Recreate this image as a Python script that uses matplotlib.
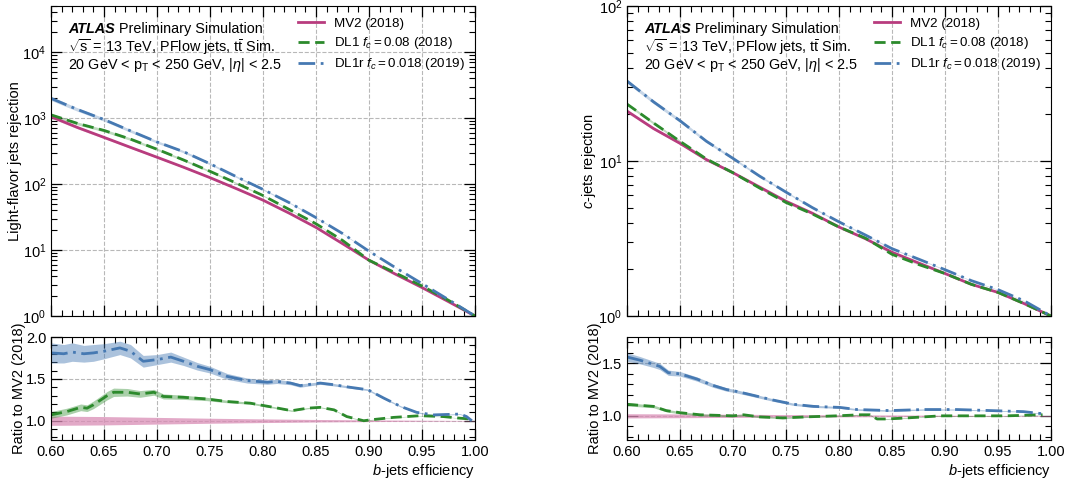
import numpy as np
import matplotlib
matplotlib.use('Agg')
import matplotlib.pyplot as plt
from matplotlib.ticker import MultipleLocator, LogLocator, NullFormatter, FormatStrFormatter

plt.rcParams['font.family'] = ['Liberation Sans', 'DejaVu Sans']
plt.rcParams['mathtext.fontset'] = 'custom'
plt.rcParams['mathtext.rm'] = 'Liberation Sans'
plt.rcParams['mathtext.it'] = 'Liberation Sans:italic'
plt.rcParams['mathtext.bf'] = 'Liberation Sans:bold'
plt.rcParams['font.size'] = 10.5

MV2_COL = '#b83c7e'
DL1_COL = '#2c8a2c'
DL1R_COL = '#4679b2'

# b-jet efficiency grid for the rejection curves
eff = [0.600, 0.625, 0.650, 0.675, 0.700, 0.725, 0.750, 0.775, 0.800,
       0.825, 0.850, 0.875, 0.900, 0.925, 0.950, 0.975, 1.000]

# light-flavour rejection
mv2_light = [1050, 720, 510, 360, 255, 180, 125, 85, 57, 36, 22, 12.5, 7.0, 4.3, 2.7, 1.65, 1.0]
dl1_light = [1120, 830, 650, 480, 337, 232, 156, 103, 67, 41, 25, 14, 7.0, 4.5, 2.85, 1.73, 1.0]
dl1r_light = [1990, 1350, 950, 640, 435, 310, 203, 129, 83, 52, 31, 17.8, 9.6, 5.4, 3.1, 1.77, 1.0]
mv2_light_err = [0.05, 0.045, 0.04, 0.035, 0.03, 0.025, 0.02, 0.015, 0.012, 0.01, 0.008, 0.006, 0.005, 0.004, 0.003, 0.002, 0.0]
dl1_light_err = [0.05, 0.05, 0.05, 0.045, 0.04, 0.035, 0.03, 0.025, 0.02, 0.015, 0.012, 0.01, 0.008, 0.006, 0.004, 0.003, 0.0]
dl1r_light_err = [0.07, 0.06, 0.055, 0.05, 0.045, 0.04, 0.035, 0.03, 0.025, 0.02, 0.016, 0.013, 0.01, 0.008, 0.006, 0.004, 0.0]

# c-jet rejection
mv2_c = [21, 16.2, 13.0, 10.2, 8.4, 6.8, 5.5, 4.6, 3.75, 3.15, 2.58, 2.2, 1.88, 1.6, 1.42, 1.2, 1.0]
dl1_c = [23.3, 17.6, 13.4, 10.3, 8.4, 6.7, 5.4, 4.55, 3.75, 3.18, 2.5, 2.15, 1.88, 1.6, 1.42, 1.2, 1.0]
dl1r_c = [32.8, 24.1, 18.2, 13.4, 10.4, 8.0, 6.3, 5.0, 4.05, 3.33, 2.72, 2.33, 1.99, 1.69, 1.48, 1.25, 1.0]
mv2_c_err = [0.02, 0.018, 0.016, 0.014, 0.012, 0.01, 0.009, 0.008, 0.007, 0.006, 0.005, 0.004, 0.004, 0.003, 0.003, 0.002, 0.0]
dl1_c_err = [0.02, 0.018, 0.016, 0.014, 0.012, 0.01, 0.009, 0.008, 0.007, 0.006, 0.005, 0.004, 0.004, 0.003, 0.003, 0.002, 0.0]
dl1r_c_err = [0.03, 0.027, 0.024, 0.02, 0.017, 0.015, 0.013, 0.011, 0.01, 0.009, 0.008, 0.007, 0.006, 0.005, 0.004, 0.003, 0.0]

# ratio to MV2, light-flavour panel
rl_dl1r_eff = [0.600, 0.612, 0.620, 0.631, 0.640, 0.650, 0.665, 0.675, 0.687, 0.700, 0.713,
               0.725, 0.738, 0.750, 0.766, 0.785, 0.804, 0.813, 0.826, 0.835, 0.854, 0.867,
               0.882, 0.899, 0.914, 0.930, 0.945, 0.961, 0.986, 0.992, 0.997]
rl_dl1r = [1.81, 1.80, 1.82, 1.80, 1.81, 1.83, 1.87, 1.83, 1.71, 1.73, 1.76,
           1.71, 1.65, 1.61, 1.53, 1.48, 1.46, 1.47, 1.45, 1.42, 1.45, 1.43,
           1.40, 1.37, 1.27, 1.17, 1.10, 1.07, 1.08, 1.05, 1.00]
rl_dl1r_err = [0.12, 0.11, 0.11, 0.10, 0.10, 0.09, 0.08, 0.08, 0.07, 0.06, 0.06,
               0.05, 0.045, 0.04, 0.035, 0.03, 0.025, 0.025, 0.02, 0.02, 0.015, 0.015,
               0.012, 0.01, 0.01, 0.008, 0.007, 0.006, 0.005, 0.005, 0.005]
rl_dl1_eff = [0.600, 0.615, 0.628, 0.634, 0.640, 0.653, 0.659, 0.672, 0.684, 0.697, 0.706,
              0.725, 0.747, 0.766, 0.788, 0.810, 0.827, 0.842, 0.854, 0.867, 0.879, 0.895,
              0.901, 0.923, 0.948, 0.970, 0.986, 0.997]
rl_dl1 = [1.07, 1.11, 1.16, 1.15, 1.19, 1.30, 1.34, 1.34, 1.32, 1.34, 1.29,
          1.28, 1.26, 1.23, 1.21, 1.16, 1.12, 1.15, 1.16, 1.13, 1.05, 1.00,
          1.01, 1.04, 1.06, 1.05, 1.03, 1.02]
rl_dl1_err = [0.04, 0.04, 0.04, 0.04, 0.045, 0.05, 0.05, 0.045, 0.04, 0.035, 0.03,
              0.025, 0.02, 0.015, 0.012, 0.01, 0.008, 0.007, 0.006, 0.005, 0.005, 0.004,
              0.004, 0.003, 0.003, 0.003, 0.002, 0.002]
rl_mv2_eff = [0.60, 0.65, 0.70, 0.75, 0.80, 0.85, 0.90, 0.95, 1.00]
rl_mv2_err = [0.055, 0.05, 0.04, 0.03, 0.022, 0.015, 0.01, 0.006, 0.003]

# ratio to MV2, c-jet panel
rc_dl1r_eff = [0.600, 0.612, 0.625, 0.631, 0.639, 0.650, 0.666, 0.681, 0.694, 0.700, 0.713,
               0.738, 0.757, 0.776, 0.801, 0.817, 0.848, 0.880, 0.911, 0.943, 0.974, 0.992]
rc_dl1r = [1.56, 1.53, 1.49, 1.47, 1.41, 1.40, 1.35, 1.29, 1.25, 1.24, 1.21,
           1.15, 1.11, 1.09, 1.08, 1.06, 1.05, 1.06, 1.06, 1.05, 1.04, 1.02]
rc_dl1r_err = [0.04, 0.035, 0.03, 0.03, 0.025, 0.022, 0.02, 0.018, 0.016, 0.015, 0.014,
               0.012, 0.011, 0.01, 0.009, 0.008, 0.007, 0.006, 0.005, 0.004, 0.004, 0.003]
rc_dl1_eff = [0.600, 0.612, 0.625, 0.637, 0.650, 0.669, 0.700, 0.710, 0.725, 0.747, 0.769,
              0.798, 0.820, 0.829, 0.836, 0.845, 0.864, 0.896, 0.927, 0.958, 0.992]
rc_dl1 = [1.11, 1.10, 1.09, 1.05, 1.03, 1.01, 1.00, 1.01, 0.99, 0.98, 0.99,
          1.00, 1.01, 1.01, 0.97, 0.97, 0.98, 1.00, 1.00, 1.00, 1.01]
rc_dl1_err = [0.015, 0.014, 0.013, 0.012, 0.011, 0.01, 0.009, 0.009, 0.008, 0.007, 0.006,
              0.005, 0.005, 0.005, 0.004, 0.004, 0.004, 0.003, 0.003, 0.002, 0.002]
rc_mv2_eff = [0.60, 0.65, 0.70, 0.75, 0.80, 0.85, 0.90, 0.95, 1.00]
rc_mv2_err = [0.02, 0.018, 0.015, 0.012, 0.01, 0.008, 0.006, 0.004, 0.003]


def style_axes(ax):
    ax.tick_params(which='both', direction='in', top=True, right=True)
    ax.tick_params(which='major', length=8, width=0.9)
    ax.tick_params(which='minor', length=4, width=0.8)
    ax.grid(True, which='major', linestyle='--', color='#b8b8b8', linewidth=0.8)
    ax.set_axisbelow(True)
    ax.set_xlim(0.6, 1.0)
    ax.xaxis.set_major_locator(MultipleLocator(0.05))
    ax.xaxis.set_minor_locator(MultipleLocator(0.01))


def band(ax, x, y, err, color, alpha, rel=True):
    x = np.array(x)
    y = np.array(y)
    err = np.array(err)
    if rel:
        ax.fill_between(x, y * (1 - err), y * (1 + err), color=color, alpha=alpha, lw=0)
    else:
        ax.fill_between(x, y - err, y + err, color=color, alpha=alpha, lw=0)


def main_panel(ax, mv2, dl1, dl1r, mv2_err, dl1_err, dl1r_err, ylabel, ylim):
    style_axes(ax)
    ax.set_yscale('log')
    ax.set_ylim(*ylim)
    ax.yaxis.set_major_locator(LogLocator(base=10, numticks=10))
    ax.yaxis.set_minor_locator(LogLocator(base=10, subs=np.arange(2, 10), numticks=20))
    ax.yaxis.set_minor_formatter(NullFormatter())
    band(ax, eff, mv2, mv2_err, MV2_COL, 0.3)
    band(ax, eff, dl1, dl1_err, DL1_COL, 0.3)
    band(ax, eff, dl1r, dl1r_err, DL1R_COL, 0.3)
    ax.plot(eff, mv2, color=MV2_COL, lw=2, label='MV2 (2018)')
    ax.plot(eff, dl1, color=DL1_COL, lw=2, ls=(0, (4, 2)), label=r'DL1 $f_c = 0.08$ (2018)')
    ax.plot(eff, dl1r, color=DL1R_COL, lw=2, ls=(0, (6, 2, 1, 2)), label=r'DL1r $f_c = 0.018$ (2019)')
    ax.set_ylabel(ylabel, labelpad=0)
    ax.tick_params(labelbottom=False)
    fs = 10.4
    t = ax.text(0.04, 0.925, 'ATLAS', transform=ax.transAxes, va='center', fontsize=fs,
                fontweight='bold', fontstyle='italic')
    ax.annotate(' Preliminary Simulation', xy=(1, 0.5), xycoords=t, va='center', fontsize=fs)
    ax.text(0.04, 0.868, r'$\sqrt{\mathrm{s}}$ = 13 TeV, PFlow jets, $\mathrm{t\bar{t}}$ Sim.',
            transform=ax.transAxes, va='center', fontsize=fs)
    ax.text(0.04, 0.81, r'20 GeV < p$_\mathrm{T}$ < 250 GeV, $|\eta|$ < 2.5',
            transform=ax.transAxes, va='center', fontsize=fs)
    ax.legend(loc='upper left', bbox_to_anchor=(0.582, 0.962), frameon=False, borderpad=0,
              borderaxespad=0, handlelength=2.0, handletextpad=0.75, labelspacing=0.38,
              fontsize=9.6)


def ratio_panel(ax, ylim, mv2_eff, mv2_err, dl1_eff, dl1, dl1_err, dl1r_eff, dl1r, dl1r_err):
    style_axes(ax)
    ax.set_ylim(*ylim)
    ax.yaxis.set_major_locator(MultipleLocator(0.5))
    ax.yaxis.set_minor_locator(MultipleLocator(0.1))
    ax.yaxis.set_major_formatter(FormatStrFormatter('%.1f'))
    band(ax, mv2_eff, np.ones(len(mv2_eff)), mv2_err, '#d98cb5', 0.75, rel=False)
    band(ax, dl1_eff, dl1, dl1_err, DL1_COL, 0.4, rel=False)
    band(ax, dl1r_eff, dl1r, dl1r_err, DL1R_COL, 0.45, rel=False)
    ax.plot(dl1_eff, dl1, color=DL1_COL, lw=2, ls=(0, (4, 2)))
    ax.plot(dl1r_eff, dl1r, color=DL1R_COL, lw=2, ls=(0, (6, 2, 1, 2)))
    ax.set_ylabel('Ratio to MV2 (2018)', labelpad=0)
    ax.set_xlabel(r'$b$-jets efficiency', loc='right', labelpad=2)


fig = plt.figure(figsize=(10.81, 4.84), dpi=100)
ax1 = fig.add_axes([0.0472, 0.3471, 0.3922, 0.6405])
ax1r = fig.add_axes([0.0472, 0.0909, 0.3922, 0.2128])
ax2 = fig.add_axes([0.5800, 0.3471, 0.3922, 0.6405])
ax2r = fig.add_axes([0.5800, 0.0909, 0.3922, 0.2128])

main_panel(ax1, mv2_light, dl1_light, dl1r_light, mv2_light_err, dl1_light_err, dl1r_light_err,
           'Light-flavor jets rejection', (1, 5e4))
main_panel(ax2, mv2_c, dl1_c, dl1r_c, mv2_c_err, dl1_c_err, dl1r_c_err,
           r'$c$-jets rejection', (1, 100))
ratio_panel(ax1r, (0.77, 2.0), rl_mv2_eff, rl_mv2_err, rl_dl1_eff, rl_dl1, rl_dl1_err,
            rl_dl1r_eff, rl_dl1r, rl_dl1r_err)
ratio_panel(ax2r, (0.77, 1.75), rc_mv2_eff, rc_mv2_err, rc_dl1_eff, rc_dl1, rc_dl1_err,
            rc_dl1r_eff, rc_dl1r, rc_dl1r_err)

fig.savefig('out.png', dpi=100)
